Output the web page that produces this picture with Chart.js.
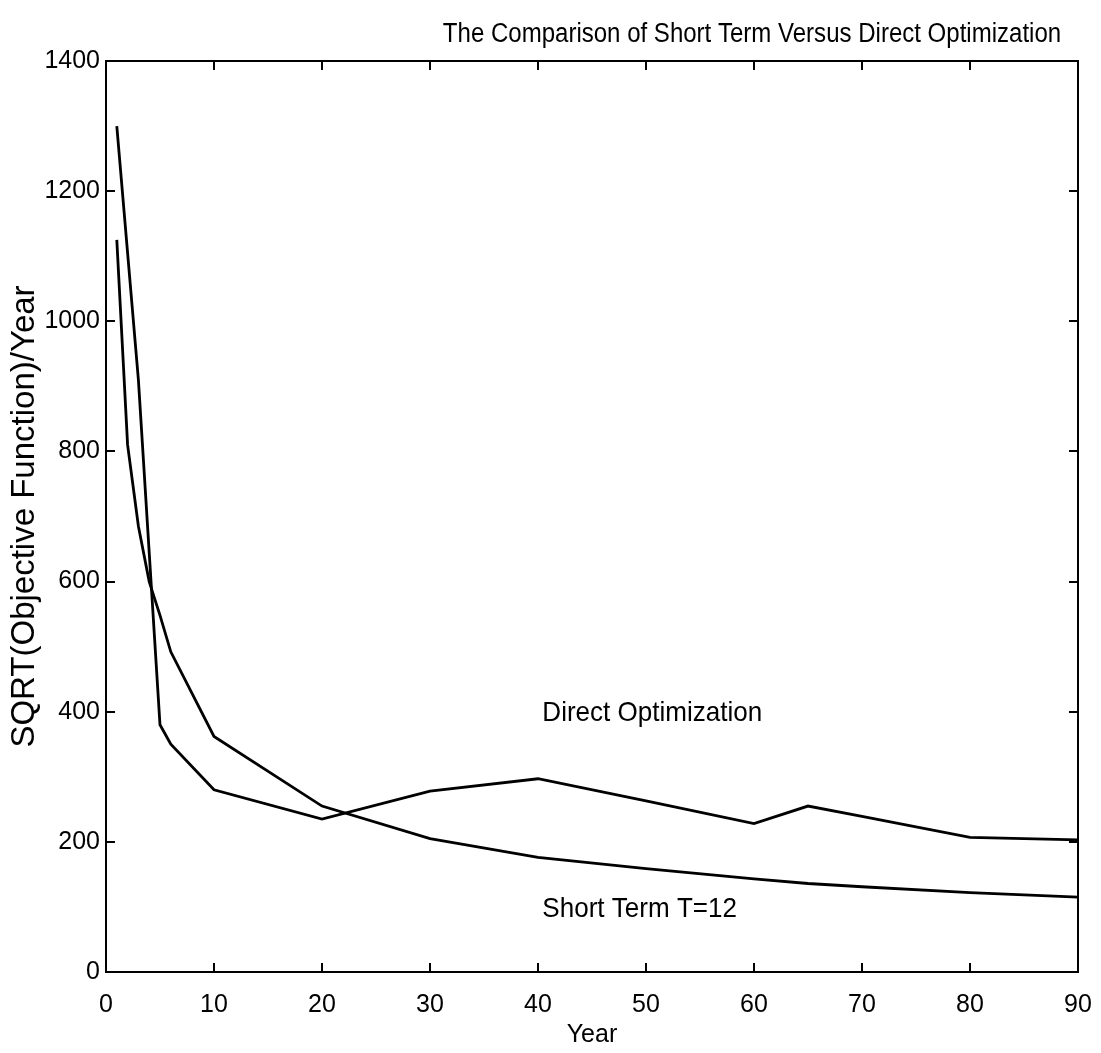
<!DOCTYPE html>
<html>
<head>
<meta charset="utf-8">
<script src="https://cdn.jsdelivr.net/npm/chart.js@4.4.0/dist/chart.umd.min.js"></script>
<style>
  html, body { margin: 0; padding: 0; background: #fff; }
  #wrap { width: 1101px; height: 1053px; }
</style>
</head>
<body>
<div id="wrap"><canvas id="c"></canvas></div>
<script>
// ---- data ----
const directYears  = [1, 3, 5, 6, 10, 20, 30, 40, 50, 60, 65, 70, 80, 90];
const directValues = [1300, 910, 380, 350, 280, 235, 278, 297, 263, 228, 255, 239, 207, 203];

const shortYears  = [1, 2, 3, 4, 5, 6, 10, 20, 30, 40, 50, 60, 65, 70, 80, 90];
const shortValues = [1125, 810, 685, 600, 548, 492, 362, 255, 205, 176, 159, 143, 136, 131, 122, 115];

const xTicks = [0, 10, 20, 30, 40, 50, 60, 70, 80, 90];
const yTicks = [0, 200, 400, 600, 800, 1000, 1200, 1400];

const TITLE = 'The Comparison of Short Term Versus Direct Optimization';
const NOTES = [
  { text: 'Direct Optimization', x: 40.4, y: 398 },
  { text: 'Short Term T=12', x: 40.4, y: 97 }
];

const FONT = "'Liberation Sans', Arial, Helvetica, sans-serif";
const TICK = 9;

const toPoints = (xs, ys) => xs.map((x, i) => ({ x, y: ys[i] }));

// squeezed text, the original uses a narrow Helvetica for title and notes
function narrowText(ctx, text, x, y, size, squeeze, align) {
  ctx.save();
  ctx.font = size + 'px ' + FONT;
  ctx.textAlign = align;
  ctx.textBaseline = 'middle';
  ctx.translate(x, y);
  ctx.scale(squeeze, 1);
  ctx.fillText(text, 0, 0);
  ctx.restore();
}

// frame, inward ticks, title and curve notes
const framePlugin = {
  id: 'frame',
  afterDraw(chart) {
    const { ctx, chartArea: a, scales: { x, y } } = chart;
    ctx.save();
    ctx.strokeStyle = '#000';
    ctx.lineWidth = 2;
    ctx.strokeRect(a.left, a.top, a.right - a.left, a.bottom - a.top);

    ctx.beginPath();
    xTicks.forEach(v => {
      const px = Math.round(x.getPixelForValue(v));
      ctx.moveTo(px, a.bottom); ctx.lineTo(px, a.bottom - TICK);
      ctx.moveTo(px, a.top);    ctx.lineTo(px, a.top + TICK);
    });
    yTicks.forEach(v => {
      const py = Math.round(y.getPixelForValue(v));
      ctx.moveTo(a.left, py);  ctx.lineTo(a.left + TICK, py);
      ctx.moveTo(a.right, py); ctx.lineTo(a.right - TICK, py);
    });
    ctx.stroke();

    ctx.fillStyle = '#000';
    narrowText(ctx, TITLE, 752, 35, 27, 0.89, 'center');
    NOTES.forEach(n => {
      narrowText(ctx, n.text, x.getPixelForValue(n.x), y.getPixelForValue(n.y), 28, 0.93, 'left');
    });
    ctx.restore();
  }
};

new Chart(document.getElementById('c'), {
  type: 'scatter',
  data: {
    datasets: [
      {
        label: 'Direct Optimization',
        data: toPoints(directYears, directValues),
        showLine: true,
        borderColor: '#000',
        borderWidth: 2.8,
        pointRadius: 0,
        tension: 0
      },
      {
        label: 'Short Term T=12',
        data: toPoints(shortYears, shortValues),
        showLine: true,
        borderColor: '#000',
        borderWidth: 2.8,
        pointRadius: 0,
        tension: 0
      }
    ]
  },
  options: {
    responsive: true,
    maintainAspectRatio: false,
    animation: false,
    layout: { padding: { top: 61, right: 23, left: 0, bottom: 0 } },
    plugins: {
      legend: { display: false },
      tooltip: { enabled: false }
    },
    scales: {
      x: {
        type: 'linear',
        min: 0, max: 90,
        afterFit: s => { s.height = 81; s.paddingLeft = 0; s.paddingRight = 0; },
        afterBuildTicks: s => { s.ticks = xTicks.map(v => ({ value: v })); },
        grid: { display: false, drawTicks: false },
        border: { display: false },
        ticks: { color: '#000', padding: 18, font: { family: FONT, size: 25 }, callback: v => String(v) },
        title: {
          display: true, text: 'Year', color: '#000',
          padding: { top: 0, bottom: 3 },
          font: { family: FONT, size: 25 }
        }
      },
      y: {
        type: 'linear',
        min: 0, max: 1400,
        afterFit: s => { s.width = 106; s.paddingTop = 0; s.paddingBottom = 0; },
        afterBuildTicks: s => { s.ticks = yTicks.map(v => ({ value: v })); },
        grid: { display: false, drawTicks: false },
        border: { display: false },
        ticks: { color: '#000', padding: 6, font: { family: FONT, size: 25 }, callback: v => String(v) },
        title: {
          display: true, text: 'SQRT(Objective Function)/Year', color: '#000',
          padding: { top: 5, bottom: 0 },
          font: { family: FONT, size: 33 }
        }
      }
    }
  },
  plugins: [framePlugin]
});
</script>
</body>
</html>
